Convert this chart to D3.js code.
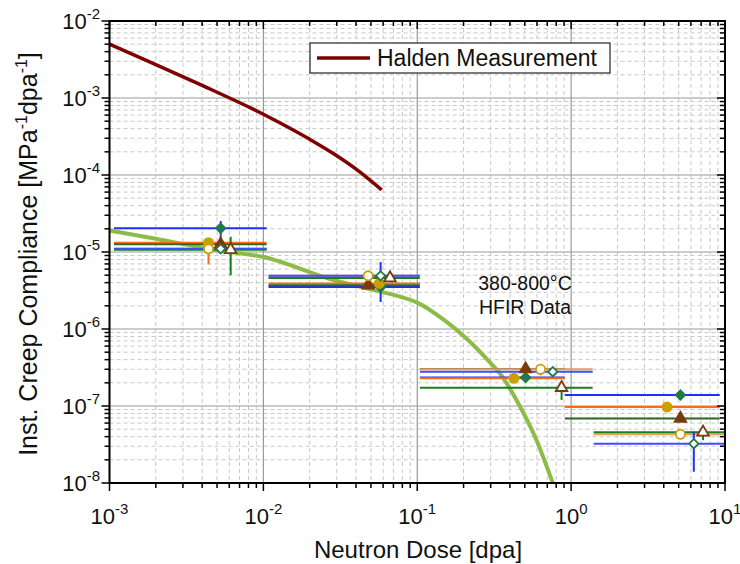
<!DOCTYPE html>
<html><head><meta charset="utf-8">
<script src="https://cdn.jsdelivr.net/npm/d3@7"></script>
<style>body{margin:0;background:#fff}svg{font-family:"Liberation Sans",Arial,sans-serif}</style>
</head><body><svg id="c" width="740" height="564"></svg>
<script>
// ---- data ----
const haldenX = [0.001, 0.002, 0.0039, 0.01, 0.02, 0.0285, 0.0425, 0.0587];
const haldenY = [5.0e-3, 2.72e-3, 1.49e-3, 6.15e-4, 2.91e-4, 1.9e-4, 1.09e-4, 6.4e-5];
const fitX = [0.001, 0.002, 0.005, 0.01, 0.0285, 0.05, 0.0773, 0.1, 0.15, 0.214, 0.3, 0.344, 0.441, 0.596, 0.76];
const fitY = [1.9e-5, 1.49e-5, 1.05e-5, 8.6e-6, 4.33e-6, 3.27e-6, 2.63e-6, 2.2e-6, 1.3e-6, 7.2e-7, 3.6e-7, 2.66e-7, 1.2e-7, 3.6e-8, 1.0e-8];
const seriesNames = ["S1", "S2", "S3", "S4", "S5", "S6"];
// per series: dose, value, dose-range low/high, value error low/high (null = none)
const s1Dose = [0.00528, 0.0578, 0.506, 5.13];
const s1Val  = [2.03e-5, 3.5e-6, 2.34e-7, 1.39e-7];
const s1XLo  = [0.00107, 0.0108, 0.104, 0.91];
const s1XHi  = [0.0105, 0.104, 0.91, 9.25];
const s1YLo  = [1.63e-5, null, null, null];
const s1YHi  = [2.53e-5, null, null, null];
const s2Dose = [0.0044, 0.0567, 0.425, 4.2];
const s2Val  = [1.32e-5, 3.9e-6, 2.29e-7, 9.7e-8];
const s2XLo  = [0.00107, 0.0108, 0.104, 0.91];
const s2XHi  = [0.0105, 0.104, 0.91, 9.25];
const s3Dose = [0.00528, 0.048, 0.506, 5.13];
const s3Val  = [1.26e-5, 3.7e-6, 3.02e-7, 6.9e-8];
const s3XLo  = [0.00107, 0.0108, 0.104, 0.91];
const s3XHi  = [0.0105, 0.104, 0.91, 9.25];
const s4Dose = [0.0044, 0.048, 0.633, 5.13];
const s4Val  = [1.1e-5, 4.9e-6, 3.0e-7, 4.29e-8];
const s4XLo  = [0.00107, 0.0108, 0.104, 1.40];
const s4XHi  = [0.0105, 0.104, 1.38, 9.9];
const s4YLo  = [6.9e-6, null, 2.5e-7, null];
const s4YHi  = [1.1e-5, null, 3.0e-7, null];
const s5Dose = [0.00613, 0.0665, 0.867, 7.2];
const s5Val  = [1.07e-5, 4.6e-6, 1.73e-7, 4.55e-8];
const s5XLo  = [0.00107, 0.0108, 0.104, 1.40];
const s5XHi  = [0.0105, 0.104, 1.38, 9.9];
const s5YLo  = [5.0e-6, null, 1.2e-7, 3.6e-8];
const s5YHi  = [1.58e-5, null, 2.0e-7, 5.1e-8];
const s6Dose = [0.00528, 0.0578, 0.76, 6.27];
const s6Val  = [1.1e-5, 4.9e-6, 2.79e-7, 3.24e-8];
const s6XLo  = [0.00107, 0.0108, 0.104, 1.40];
const s6XHi  = [0.0105, 0.104, 1.38, 9.9];
const s6YLo  = [9.6e-6, 2.24e-6, 2.46e-7, 1.4e-8];
const s6YHi  = [1.63e-5, 7.4e-6, 3.1e-7, 4.65e-8];
const xTickExp = [-3, -2, -1, 0, 1];
const yTickExp = [-8, -7, -6, -5, -4, -3, -2];
const legendLabel = "Halden Measurement";
const noteLines = ["380-800°C", "HFIR Data"];

// ---- styles ----
const styles = {
  S1: {line: "#1f2fff", err: "#1f2fff", marker: "diamond", fill: "#1e7a4a", stroke: "#1e7a4a"},
  S2: {line: "#ff6a13", err: "#ff6a13", marker: "circle", fill: "#c9a000", stroke: "#c9a000"},
  S3: {line: "#2d6a1f", err: "#2d6a1f", marker: "triangle", fill: "#7a3a10", stroke: "#7a3a10"},
  S4: {line: "#f09a60", err: "#ff6a13", marker: "circle", fill: "#ffffff", stroke: "#c9a000"},
  S5: {line: "#17801a", err: "#17801a", marker: "triangle", fill: "#ffffff", stroke: "#7a3a10"},
  S6: {line: "#3f4cff", err: "#1f2fff", marker: "diamond", fill: "#ffffff", stroke: "#1e7a4a"}
};
const series = [
  {name: "S1", d: s1Dose, v: s1Val, xl: s1XLo, xh: s1XHi, yl: s1YLo, yh: s1YHi},
  {name: "S2", d: s2Dose, v: s2Val, xl: s2XLo, xh: s2XHi},
  {name: "S3", d: s3Dose, v: s3Val, xl: s3XLo, xh: s3XHi},
  {name: "S4", d: s4Dose, v: s4Val, xl: s4XLo, xh: s4XHi, yl: s4YLo, yh: s4YHi},
  {name: "S5", d: s5Dose, v: s5Val, xl: s5XLo, xh: s5XHi, yl: s5YLo, yh: s5YHi},
  {name: "S6", d: s6Dose, v: s6Val, xl: s6XLo, xh: s6XHi, yl: s6YLo, yh: s6YHi}
];

const L = 109.5, R = 725, T = 21, B = 483;
const x = d3.scaleLog().domain([1e-3, 10]).range([L, R]);
const y = d3.scaleLog().domain([1e-8, 1e-2]).range([B, T]);
const svg = d3.select("#c");

// minor values
const minorX = [], minorY = [];
for (let e = -3; e < 1; e++) for (let m = 2; m <= 9; m++) minorX.push(m * Math.pow(10, e));
for (let e = -8; e < -2; e++) for (let m = 2; m <= 9; m++) minorY.push(m * Math.pow(10, e));
const majorX = xTickExp.map(e => Math.pow(10, e));
const majorY = yTickExp.map(e => Math.pow(10, e));

// grid
const g = svg.append("g");
g.selectAll(".mgx").data(minorX).join("line").attr("x1", d => x(d)).attr("x2", d => x(d)).attr("y1", T).attr("y2", B)
  .attr("stroke", "#c8c8c8").attr("stroke-dasharray", "4,3").attr("stroke-width", 1);
g.selectAll(".mgy").data(minorY).join("line").attr("y1", d => y(d)).attr("y2", d => y(d)).attr("x1", L).attr("x2", R)
  .attr("stroke", "#c8c8c8").attr("stroke-dasharray", "4,3").attr("stroke-width", 1);
g.selectAll(".Mgx").data(majorX).join("line").attr("x1", d => x(d)).attr("x2", d => x(d)).attr("y1", T).attr("y2", B)
  .attr("stroke", "#999").attr("stroke-width", 1.2);
g.selectAll(".Mgy").data(majorY).join("line").attr("y1", d => y(d)).attr("y2", d => y(d)).attr("x1", L).attr("x2", R)
  .attr("stroke", "#999").attr("stroke-width", 1.2);

// curves
const line = d3.line().x(d => x(d[0])).y(d => y(d[1])).curve(d3.curveMonotoneX);
svg.append("path").datum(fitX.map((v, i) => [v, fitY[i]])).attr("d", line)
  .attr("fill", "none").attr("stroke", "#8cbc45").attr("stroke-width", 4);
svg.append("path").datum(haldenX.map((v, i) => [v, haldenY[i]])).attr("d", line)
  .attr("fill", "none").attr("stroke", "#800000").attr("stroke-width", 3.5);

// horizontal range lines
series.forEach(s => {
  const st = styles[s.name];
  svg.append("g").selectAll("line").data(s.d.map((d, i) => i)).join("line")
    .attr("x1", i => x(s.xl[i])).attr("x2", i => x(s.xh[i]))
    .attr("y1", i => y(s.v[i])).attr("y2", i => y(s.v[i]))
    .attr("stroke", st.line).attr("stroke-width", 2);
});
// vertical error bars
series.forEach(s => {
  if (!s.yl) return;
  const st = styles[s.name];
  svg.append("g").selectAll("line").data(s.d.map((d, i) => i).filter(i => s.yl[i] != null)).join("line")
    .attr("x1", i => x(s.d[i])).attr("x2", i => x(s.d[i]))
    .attr("y1", i => y(s.yl[i])).attr("y2", i => y(s.yh[i]))
    .attr("stroke", st.err).attr("stroke-width", 2);
});
// markers
const sym = {diamond: d3.symbolSquare, circle: d3.symbolCircle, triangle: d3.symbolTriangle};
const size = {diamond: 44, circle: 66, triangle: 58};
const rot = {diamond: 45, circle: 0, triangle: 0};
series.forEach(s => {
  const st = styles[s.name];
  svg.append("g").selectAll("path").data(s.d.map((d, i) => i)).join("path")
    .attr("transform", i => `translate(${x(s.d[i])},${y(s.v[i])}) rotate(${rot[st.marker]})`)
    .attr("d", d3.symbol().type(sym[st.marker]).size(size[st.marker]))
    .attr("fill", st.fill).attr("stroke", st.stroke).attr("stroke-width", 1.8);
});

// frame
svg.append("rect").attr("x", L).attr("y", T).attr("width", R - L).attr("height", B - T)
  .attr("fill", "none").attr("stroke", "#000").attr("stroke-width", 2);

// ticks
const tk = svg.append("g").attr("stroke", "#000").attr("stroke-width", 1.5);
majorX.forEach(v => { tk.append("line").attr("x1", x(v)).attr("x2", x(v)).attr("y1", B).attr("y2", B + 8);
  tk.append("line").attr("x1", x(v)).attr("x2", x(v)).attr("y1", T).attr("y2", T + 8); });
minorX.forEach(v => { tk.append("line").attr("x1", x(v)).attr("x2", x(v)).attr("y1", B).attr("y2", B + 5);
  tk.append("line").attr("x1", x(v)).attr("x2", x(v)).attr("y1", T).attr("y2", T + 5); });
majorY.forEach(v => { tk.append("line").attr("y1", y(v)).attr("y2", y(v)).attr("x1", L - 8).attr("x2", L);
  tk.append("line").attr("y1", y(v)).attr("y2", y(v)).attr("x1", R - 8).attr("x2", R); });
minorY.forEach(v => { tk.append("line").attr("y1", y(v)).attr("y2", y(v)).attr("x1", L - 5).attr("x2", L);
  tk.append("line").attr("y1", y(v)).attr("y2", y(v)).attr("x1", R - 5).attr("x2", R); });

// tick labels
xTickExp.forEach(e => {
  const t = svg.append("text").attr("x", x(Math.pow(10, e))).attr("y", 524).attr("text-anchor", "middle")
    .attr("font-size", 22).attr("fill", "#111");
  t.append("tspan").text("10");
  t.append("tspan").attr("dy", -10).attr("font-size", 15).text(e);
});
yTickExp.forEach(e => {
  const t = svg.append("text").attr("x", 100).attr("y", y(Math.pow(10, e)) + 8).attr("text-anchor", "end")
    .attr("font-size", 22).attr("fill", "#111");
  t.append("tspan").text("10");
  t.append("tspan").attr("dy", -10).attr("font-size", 15).text(e);
});

// axis titles
svg.append("text").attr("x", 418).attr("y", 558).attr("text-anchor", "middle")
  .attr("font-size", 24).attr("fill", "#111").text("Neutron Dose [dpa]");
const yt = svg.append("text").attr("transform", "translate(37,254) rotate(-90)").attr("text-anchor", "middle")
  .attr("font-size", 25).attr("fill", "#111");
yt.append("tspan").text("Inst. Creep Compliance [MPa");
yt.append("tspan").attr("dy", -10).attr("font-size", 16).text("-1");
yt.append("tspan").attr("dy", 10).text("dpa");
yt.append("tspan").attr("dy", -10).attr("font-size", 16).text("-1");
yt.append("tspan").attr("dy", 10).text("]");

// annotation
noteLines.forEach((s, i) => svg.append("text").attr("x", 525).attr("y", 290 + i * 24).attr("text-anchor", "middle")
  .attr("font-size", 19.5).attr("fill", "#111").text(s));

// legend
const lg = svg.append("g");
lg.append("rect").attr("x", 310).attr("y", 43).attr("width", 300).attr("height", 30)
  .attr("fill", "#fff").attr("stroke", "#222").attr("stroke-width", 1.2);
lg.append("line").attr("x1", 317).attr("x2", 370).attr("y1", 58).attr("y2", 58)
  .attr("stroke", "#800000").attr("stroke-width", 3.5);
lg.append("text").attr("x", 377).attr("y", 66).attr("font-size", 23).attr("fill", "#111").text(legendLabel);
</script></body></html>
